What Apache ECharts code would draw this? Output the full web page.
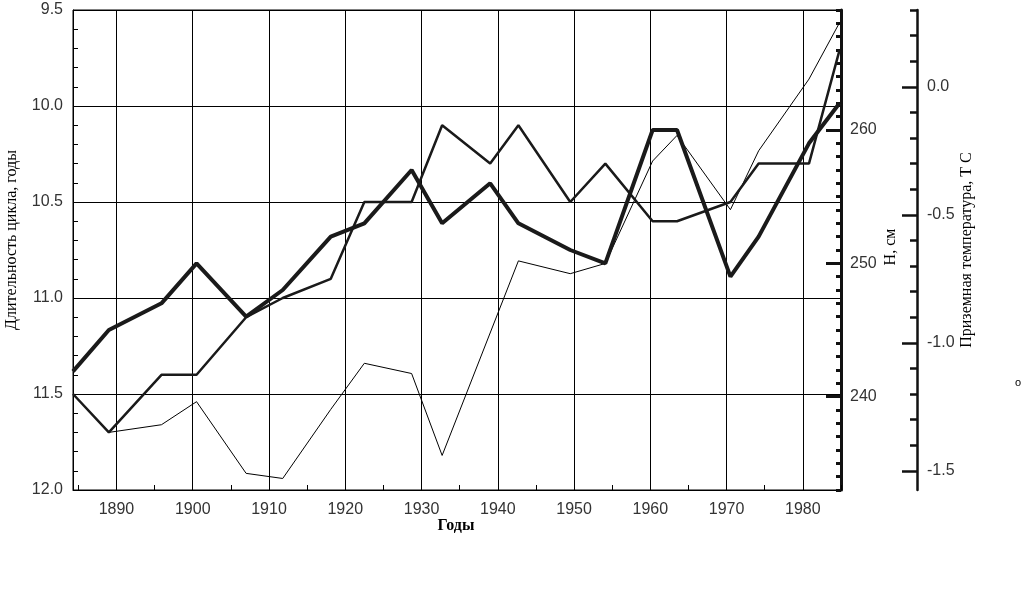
<!DOCTYPE html>
<html>
<head>
<meta charset="utf-8">
<title>Длительность цикла, H и температура</title>
<script src="https://cdn.jsdelivr.net/npm/echarts@6/dist/echarts.min.js"></script>
<style>
  html, body { margin: 0; padding: 0; background: #fff; }
  #chart { width: 1024px; height: 600px; }
</style>
</head>
<body>
<div id="chart"></div>
<script>
// годы (точки излома кривых)
const years = [1884.3, 1889.0, 1895.9, 1900.5, 1907.0, 1911.8, 1918.1, 1922.5, 1928.7, 1932.7,
               1939.0, 1942.7, 1949.5, 1954.1, 1960.3, 1963.5, 1970.5, 1974.2, 1980.8, 1984.8];
// длительность цикла, годы (средняя линия, левая ось)
const cycleLength = [11.5, 11.7, 11.4, 11.4, 11.1, 11.0, 10.9, 10.5, 10.5, 10.1,
                     10.3, 10.1, 10.5, 10.3, 10.6, 10.6, 10.5, 10.3, 10.3, 9.71];
// H, см (жирная линия)
const seaLevel = [241.9, 245, 247, 250, 246, 248, 252, 253, 257, 253,
                  256, 253, 251, 250, 260, 260, 249, 252, 259, 262];
// приземная температура (тонкая линия)
const temperature = [null, -1.35, -1.32, -1.23, -1.51, -1.53, -1.26, -1.08, -1.12, -1.44,
                     null, -0.68, -0.73, -0.69, -0.29, -0.19, -0.48, -0.25, 0.03, 0.25];

const decadeTicks = [1890, 1900, 1910, 1920, 1930, 1940, 1950, 1960, 1970, 1980];
const levelTicks = [240, 250, 260];
const tempTicks = [-1.5, -1.0, -0.5, 0.0];

const halfDecadeTicks = [];
for (let y = 1885; y <= 1985; y += 10) halfDecadeTicks.push(y);
const levelMinor = [];
for (let h = 233; h <= 269; h++) levelMinor.push(h);
const tempMinor = [];
for (let t = 3; t >= -15; t--) tempMinor.push(t / 10);

function pairs(arr) {
  return years.map((x, i) => [x, arr[i]]).filter(p => p[1] !== null);
}

const sansFont = 'Liberation Sans';
const labelStyle = { fontFamily: sansFont, fontSize: 16, color: '#333' };

let myChart = echarts.init(document.getElementById('chart'));

const option = {
  animation: false,
  backgroundColor: '#fff',
  grid: {
    left: 73, top: 10, width: 768, height: 480,
    show: true, borderColor: '#000', borderWidth: 1, backgroundColor: 'transparent'
  },
  xAxis: [
    {
      type: 'value', min: 1884.3, max: 1985, position: 'bottom',
      axisLine: { show: true, onZero: false, lineStyle: { color: '#000', width: 1 } },
      axisTick: { show: true, inside: true, length: 5, customValues: decadeTicks, lineStyle: { color: '#000' } },
      axisLabel: Object.assign({ customValues: decadeTicks, margin: 12, formatter: v => String(v) }, labelStyle),
      splitLine: { show: true, lineStyle: { color: '#000', width: 1 } }
    },
    {
      // короткие засечки через 5 лет
      type: 'value', min: 1884.3, max: 1985, position: 'bottom',
      axisLine: { show: false, onZero: false },
      axisTick: { show: true, inside: true, length: 5, customValues: halfDecadeTicks, lineStyle: { color: '#000' } },
      axisLabel: { show: false },
      splitLine: { show: false }
    }
  ],
  yAxis: [
    {
      type: 'value', min: 9.5, max: 12, interval: 0.5, inverse: true, position: 'left',
      axisLine: { show: true, onZero: false, lineStyle: { color: '#000', width: 1 } },
      axisTick: { show: true, inside: true, length: 5, lineStyle: { color: '#000' } },
      minorTick: { show: true, splitNumber: 5, length: 5, lineStyle: { color: '#000' } },
      axisLabel: Object.assign({ margin: 10, formatter: v => v.toFixed(1) }, labelStyle),
      splitLine: { show: true, lineStyle: { color: '#000', width: 1 } }
    },
    {
      type: 'value', min: 233, max: 269, position: 'right', offset: 0,
      axisLine: { show: true, onZero: false, lineStyle: { color: '#111', width: 3 } },
      axisTick: { show: true, inside: true, length: 15, customValues: levelTicks, lineStyle: { color: '#111', width: 3 } },
      axisLabel: Object.assign({ customValues: levelTicks, margin: 9 }, labelStyle),
      splitLine: { show: false }
    },
    {
      // мелкие засечки оси H через 1 см
      type: 'value', min: 233, max: 269, position: 'right', offset: 0,
      axisLine: { show: false, onZero: false },
      axisTick: { show: true, inside: true, length: 5, customValues: levelMinor, lineStyle: { color: '#111', width: 3 } },
      axisLabel: { show: false },
      splitLine: { show: false }
    },
    {
      type: 'value', min: -1.575, max: 0.3, position: 'right', offset: 76,
      axisLine: { show: true, onZero: false, lineStyle: { color: '#111', width: 2.5 } },
      axisTick: { show: true, inside: true, length: 15, customValues: tempTicks, lineStyle: { color: '#111', width: 2.5 } },
      axisLabel: Object.assign({ customValues: tempTicks, margin: 10, formatter: v => v.toFixed(1) }, labelStyle),
      splitLine: { show: false }
    },
    {
      type: 'value', min: -1.575, max: 0.3, position: 'right', offset: 76,
      axisLine: { show: false, onZero: false },
      axisTick: { show: true, inside: true, length: 7, customValues: tempMinor, lineStyle: { color: '#111', width: 2.5 } },
      axisLabel: { show: false },
      splitLine: { show: false }
    }
  ],
  series: [
    {
      name: 'Приземная температура', type: 'line', yAxisIndex: 3,
      data: pairs(temperature), symbol: 'none', z: 3,
      lineStyle: { color: '#000', width: 1 }
    },
    {
      name: 'Длительность цикла', type: 'line', yAxisIndex: 0,
      data: pairs(cycleLength), symbol: 'none', z: 4,
      lineStyle: { color: '#1a1a1a', width: 2.5 }
    },
    {
      name: 'H, см', type: 'line', yAxisIndex: 1,
      data: pairs(seaLevel), symbol: 'none', z: 5,
      lineStyle: { color: '#1a1a1a', width: 4 }
    }
  ],
  graphic: [
    {
      type: 'text', x: 12, y: 240, rotation: Math.PI / 2,
      style: { text: 'Длительность цикла, годы', font: '16px "Liberation Serif"', fill: '#000', align: 'center', verticalAlign: 'middle' }
    },
    {
      type: 'text', x: 891, y: 247, rotation: Math.PI / 2,
      style: { text: 'Н, см', font: '16px "Liberation Serif"', fill: '#000', align: 'center', verticalAlign: 'middle' }
    },
    {
      type: 'text', x: 967, y: 250, rotation: Math.PI / 2,
      style: { text: 'Приземная температура, Т С', font: '16px "Liberation Serif"', fill: '#000', align: 'center', verticalAlign: 'middle' }
    },
    {
      type: 'text', x: 1018, y: 383,
      style: { text: 'o', font: '11px "Liberation Sans"', fill: '#000', align: 'center', verticalAlign: 'middle' }
    },
    {
      type: 'text', x: 456, y: 526,
      style: { text: 'Годы', font: 'bold 16px "Liberation Serif"', fill: '#000', align: 'center', verticalAlign: 'middle' }
    }
  ]
};

myChart.setOption(option, true);
</script>
</body>
</html>
